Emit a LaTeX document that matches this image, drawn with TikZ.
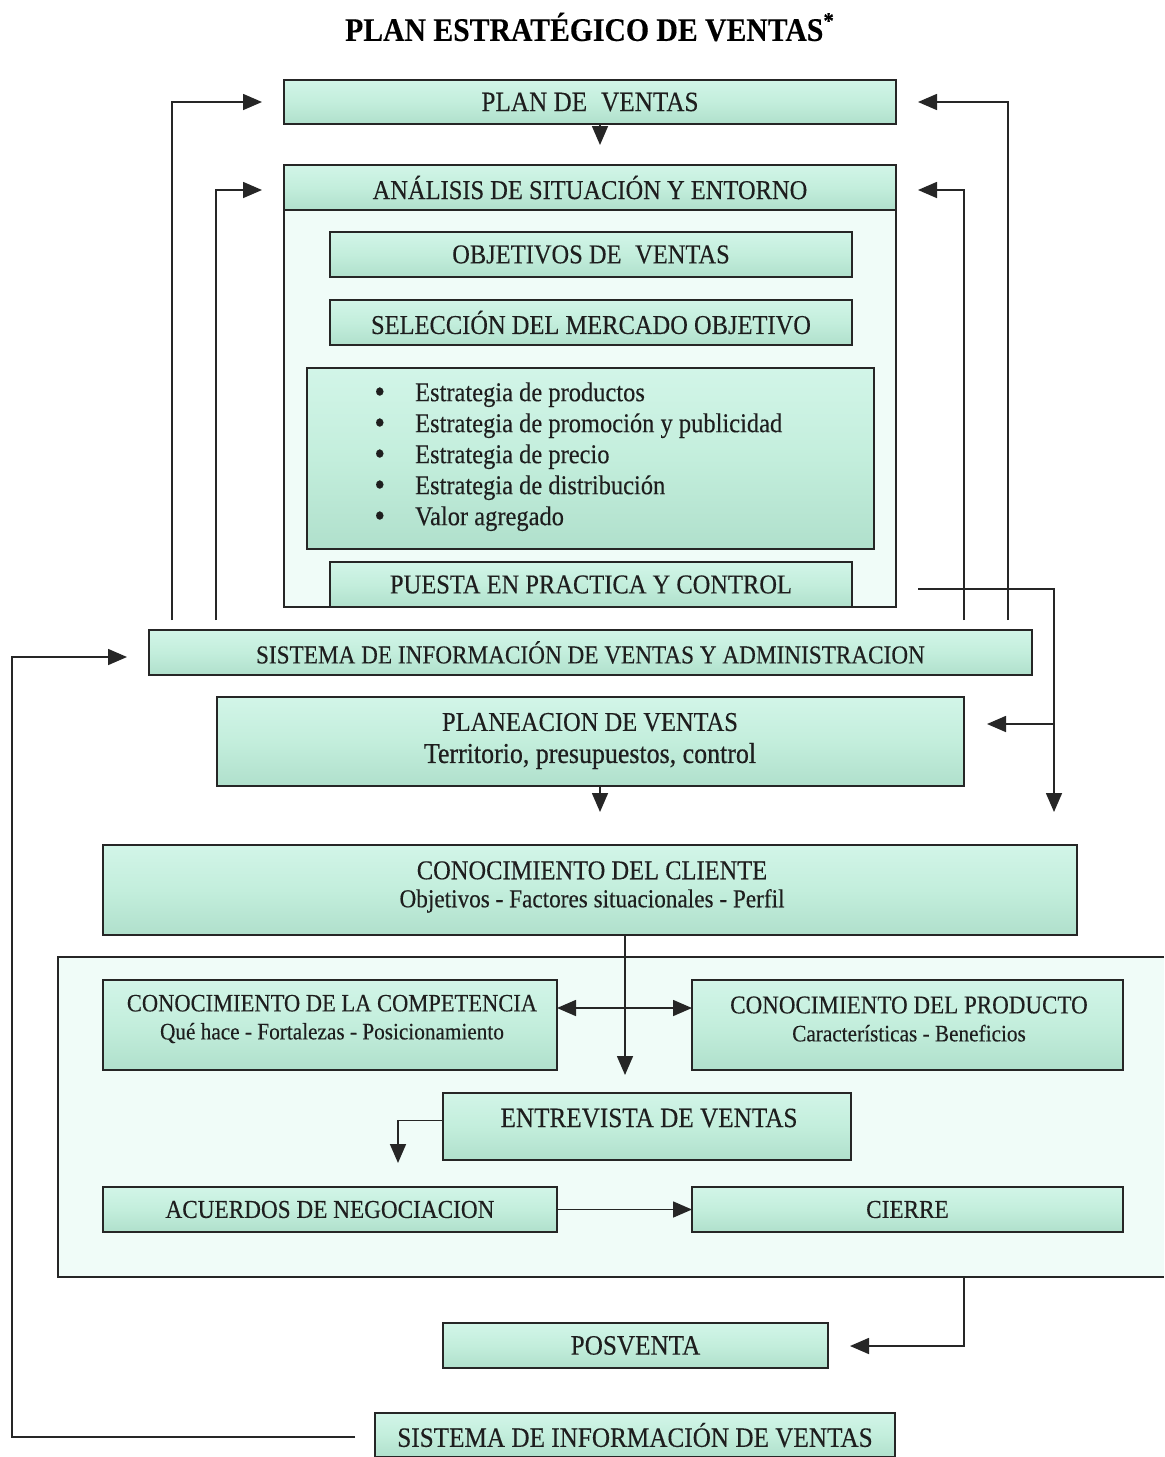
\documentclass[tikz,border=0pt]{standalone}
\usepackage{fontspec}
\setmainfont[FakeStretch=0.9,FakeBold=0.25]{Liberation Serif}
\usetikzlibrary{arrows.meta}
\definecolor{mintTop}{HTML}{D2F5E8}
\definecolor{mintMid}{HTML}{C3EEDC}
\definecolor{mintBot}{HTML}{B0E0CC}
\definecolor{paleBg}{HTML}{F0FCF8}
\definecolor{ink}{HTML}{262626}
\definecolor{txt}{HTML}{1E1E1E}
\newcommand\fL{\fontsize{14}{16}\selectfont}
\newcommand\fM{\fontsize{13.6}{16}\selectfont}
\newcommand\fS{\fontsize{12.9}{15}\selectfont}
\newcommand\fX{\fontsize{11.8}{14}\selectfont}
\newcommand\mybox[7][]{%
  \node[boxst,#1,minimum width={(#5-#3)*0.5pt},minimum height={(#6-#4)*0.5pt}]
    (#2) at ({(#3+#5)/2},{(#4+#6)/2}) {#7};}
\newcommand\mycont[6][]{%
  \node[contst,#1,minimum width={(#5-#3)*0.5pt},minimum height={(#6-#4)*0.5pt}]
    (#2) at ({(#3+#5)/2},{(#4+#6)/2}) {};}
\newcommand\bul{\raisebox{-0.8pt}{\scalebox{1.25}{\textbullet}}}
\tikzset{
  boxst/.style={draw=ink,line width=0.8pt,rectangle,inner sep=0pt,outer sep=0pt,
    top color=mintTop,bottom color=mintBot,middle color=mintMid,
    text=txt,align=center,font=\fM},
  contst/.style={rectangle,inner sep=0pt,outer sep=0pt,fill=paleBg,line width=0.8pt},
  lbl/.style={inner sep=0pt,text=txt,align=center,font=\fontsize{13}{14}\selectfont},
  conn/.style={draw=ink,line width=0.8pt},
  arr/.style={conn,-{Triangle[length=9.5pt,width=8pt]}},
  darr/.style={conn,{Triangle[length=9.5pt,width=8pt]}-{Triangle[length=9.5pt,width=8pt]}},
}
\begin{document}
\begin{tikzpicture}[x=0.5pt,y=-0.5pt]
\useasboundingbox[fill=white] (0,0) rectangle (1164,1457);
% title
\node[text=black,font=\fontsize{16.5}{18}\selectfont\bfseries] (title) at (590,27)
  {PLAN ESTRATÉGICO DE VENTAS\textsuperscript{*}};
% containers
\mycont[draw=ink]{c1}{284}{165}{896}{607}
\mycont{c2}{58}{957}{1164}{1277}
\draw[conn] (c2.north east) -- (c2.north west) -- (c2.south west) -- (c2.south east);
% boxes
\mybox[font=\fL]{plan}{284}{80}{896}{124}{PLAN DE\enspace VENTAS}
\mybox[font=\fM]{anal}{284}{165}{896}{210}{ANÁLISIS DE SITUACIÓN Y ENTORNO}
\mybox[font=\fM]{obj}{330}{232}{852}{277}{OBJETIVOS DE\enspace VENTAS}
\mybox[font=\fM]{sel}{330}{300}{852}{345}{SELECCIÓN DEL MERCADO OBJETIVO}
\mybox{estr}{307}{368}{874}{549}{}
\node[anchor=west,inner sep=0pt,text=txt,font=\fontsize{13.6}{15.5}\selectfont] (estrtxt) at (374,457) {%
  \begin{tabular}{@{}l@{\hspace{15pt}}l@{}}
  \bul & Estrategia de productos\\
  \bul & Estrategia de promoción y publicidad\\
  \bul & Estrategia de precio\\
  \bul & Estrategia de distribución\\
  \bul & Valor agregado
  \end{tabular}};
\mybox[font=\fM]{pues}{330}{562}{852}{607}{PUESTA EN PRACTICA Y CONTROL}
\mybox[font=\fS]{sia}{149}{630}{1032}{675}{SISTEMA DE INFORMACIÓN DE VENTAS Y ADMINISTRACION}
\mybox{plane}{217}{697}{964}{786}{}
\node[lbl] (planetxt) at (590,741) {{\fM PLANEACION DE VENTAS}\\[2pt]{\fontsize{14.4}{16}\selectfont\addfontfeature{FakeBold=0.6} Territorio, presupuestos, control}};
\mybox{cli}{103}{845}{1077}{935}{}
\node[lbl] (clitxt) at (592,887) {{\fM CONOCIMIENTO DEL CLIENTE}\\{\fontsize{12.9}{15}\selectfont Objetivos - Factores situacionales - Perfil}};
\mybox{comp}{103}{980}{557}{1070}{}
\node[lbl] (comptxt) at (332,1019) {{\fontsize{12.5}{15}\selectfont CONOCIMIENTO DE LA COMPETENCIA}\\{\fX Qué hace - Fortalezas - Posicionamiento}};
\mybox{prod}{692}{980}{1123}{1070}{}
\node[lbl] (prodtxt) at (909,1019) {{\fontsize{12.8}{15}\selectfont CONOCIMIENTO DEL PRODUCTO}\\{\fX Características - Beneficios}};
\mybox{ent}{443}{1093}{851}{1160}{}
\node[lbl,font=\fL] (enttxt) at (649,1118) {ENTREVISTA DE VENTAS};
\mybox[font=\fS]{acu}{103}{1187}{557}{1232}{ACUERDOS DE NEGOCIACION}
\mybox[font=\fS]{cie}{692}{1187}{1123}{1232}{CIERRE}
\mybox[font=\fL]{pos}{443}{1323}{828}{1368}{POSVENTA}
\mybox[font=\fL]{siv}{375}{1413}{895}{1457}{SISTEMA DE INFORMACIÓN DE VENTAS}
% coordinates for free ends
\coordinate (tA) at (600,145);
\coordinate (fL1) at (172,620); \coordinate (tL1) at (262,102);
\coordinate (fL2) at (216,620); \coordinate (tL2) at (262,190);
\coordinate (fR1) at (1008,620); \coordinate (tR1) at (918,102);
\coordinate (fR2) at (964,620); \coordinate (tR2) at (918,190);
\coordinate (pS) at (918,589); \coordinate (pC) at (1054,589);
\coordinate (pB) at (1054,724); \coordinate (pT) at (987,724);
\coordinate (pD) at (1054,812);
\coordinate (tP) at (600,812);
\coordinate (tC) at (625,1075);
\coordinate (tE) at (398,1163);
\coordinate (cB) at (964,1277); \coordinate (tPo) at (850,1346);
\coordinate (sS) at (355,1437); \coordinate (sL) at (12,1437);
\coordinate (tS) at (127,657);
% connectors
\draw[arr] (plan.south -| tA) -- (tA);
\draw[arr] (fL1) |- (tL1);
\draw[arr] (fL2) |- (tL2);
\draw[arr] (fR1) |- (tR1);
\draw[arr] (fR2) |- (tR2);
\draw[arr] (pS) -- (pC) -- (pD);
\draw[arr] (pB) -- (pT);
\draw[arr] (plane.south -| tP) -- (tP);
\draw[arr] (cli.south -| tC) -- (tC);
\draw[darr] ([yshift=8.5pt]comp.east) -- ([yshift=8.5pt]prod.west);
\draw[arr] ([yshift=3pt]ent.west) -| (tE);
\draw[arr] (acu.east) -- (cie.west);
\draw[arr] (cB) |- (tPo);
\draw[arr] (sS) -- (sL) |- (tS);
\end{tikzpicture}
\end{document}
